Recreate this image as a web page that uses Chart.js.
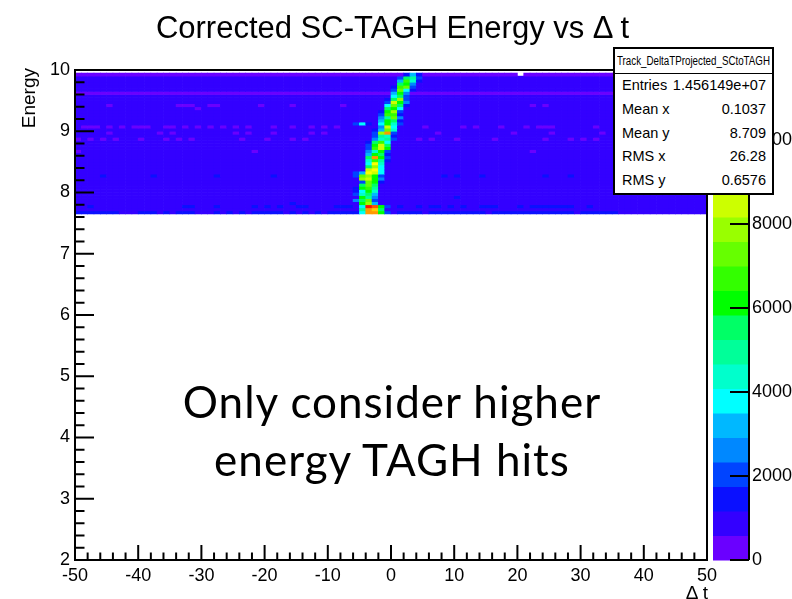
<!DOCTYPE html>
<html>
<head>
<meta charset="utf-8">
<script src="https://cdn.jsdelivr.net/npm/chart.js@4.4.1/dist/chart.umd.min.js"></script>
<style>
  html, body { margin: 0; padding: 0; background: #fff; }
  #wrap { position: relative; width: 792px; height: 599px; overflow: hidden; font-family: "Liberation Sans", Arial, sans-serif; color: #000; }
  #wrap canvas { position: absolute; left: 0; top: 0; }
  .abs { position: absolute; white-space: nowrap; }
  #title { left: 0; width: 785px; top: 8px; line-height: 40px; text-align: center; font-size: 31px; }
  #ytitle { left: 19px; top: 168px; width: 100px; line-height: 20px; text-align: right; font-size: 19px; transform-origin: 0 0; transform: rotate(-90deg); }
  #xtitle { left: 608px; width: 100px; top: 582px; line-height: 22px; text-align: right; font-size: 19px; }
  #note { left: 92px; width: 600px; top: 372px; line-height: 58px; text-align: center; font-family: Lato, "Open Sans", sans-serif; font-size: 44px; letter-spacing: 1px; }
  #stats { left: 613px; top: 47px; width: 161px; height: 148px; box-sizing: border-box; border: 2px solid #000; background: #fff; }
  #statsTitle { position: relative; height: 24px; line-height: 24px; border-bottom: 1.5px solid #000; font-size: 12px; overflow: hidden; }
  #statsTitle span { position: absolute; left: 2px; top: 0; transform-origin: 0 50%; }
  .srow { position: relative; height: 23.8px; line-height: 23.8px; font-size: 14.5px; }
  .srow .l { position: absolute; left: 7px; }
  .srow .v { position: absolute; right: 6px; }
</style>
</head>
<body>
<div id="wrap">
  <canvas id="hist" width="792" height="599"></canvas>
  <div id="title" class="abs">Corrected SC-TAGH Energy vs Δ t</div>
  <div id="ytitle" class="abs">Energy</div>
  <div id="xtitle" class="abs">Δ t</div>
  <div id="note" class="abs">Only consider higher<br>energy TAGH hits</div>
  <div id="stats" class="abs">
    <div id="statsTitle"><span id="statsName"></span></div>
    <div id="statsBody"></div>
  </div>
</div>
<script>
  // =====================
  // Data
  // =====================
  // Δt bins: 100 bins of width 1 from -50 to 50
  const tMin = -50, tMax = 50, tBin = 1;
  // energy bins: rows of 0.05 from 10.0 (row 0) down to 7.65
  const eTop = 10, eBin = 0.05;
  const eAxisMin = 2, eAxisMax = 10;

  // one string per energy row, one char per Δt bin (groups of 10 bins).
  // char = colour contour: 0-9, a-j (20 contours), "." = empty
  const cellRows = [
    ".......... .......... .......... .......... .......... .......... .......... .......... .......... ..........",
    "0000000000 0000000000 0000000000 0000000000 0000000000 0025200000 0000000000 .000000000 0000000000 0000000000",
    "1111111111 1111111111 1111111111 1111111111 1111111111 1398311111 1111111111 1111111111 1111111111 1111111111",
    "1111111111 1111111111 1111111111 1111111111 1111111111 15b7211111 1111111111 1111111111 1111111111 1111111111",
    "1111111111 1111111111 1111111111 1111111111 1111111111 19a4111111 1111111111 1111111111 1111111111 1111111111",
    "1111111111 1111111111 1111111111 1111111111 1111111111 2bc3111111 1111111111 1111111111 1111111111 1111111111",
    "1111111111 1111111111 1111111111 1111111111 1111111111 3c62111111 1111111111 1111111111 1111111111 1111111111",
    "0000000000 0000000000 0000000000 0000000000 0000000000 5a40000000 0000000000 0000000000 0000000000 0000000000",
    "1111111111 1111111111 1111111111 1111111111 1111111111 6931111111 1111111111 1111111111 1111111111 1111111111",
    "1111111111 1111111111 1111111111 1111111111 1111111112 9d31111111 1111111111 1111111111 1111111111 1111111111",
    "1111111111 1111111111 1111111111 1111111111 1111111113 ea41111111 1111111111 1111111111 1111111111 1111111111",
    "1111101111 1111110001 1001111110 1111011111 1101111116 c921111111 1111111111 1101011111 1111111111 1111111111",
    "1111111111 1111111110 1111111111 1111111111 1111111119 a611111111 1111111111 1111111111 1111111111 1111111111",
    "1111111111 1111111111 1111111111 1111111111 111111112a d311111111 1111111111 1111111111 1111111111 1111111111",
    "1111111111 1111111111 1111111111 1111111111 111111113b b211111111 1111111111 1111111111 1111111111 1111111111",
    "1111111111 1111111111 1111111111 1111111111 1111111148 c411111111 1111111111 1111111111 1111111111 1111111111",
    "1111111111 1111111111 1111111111 1111111111 111111115a 9211111111 1111111111 1111111111 1111111111 1111111111",
    "1111111111 1111111111 1111111111 1111111111 111136216a 7311111111 1111111111 1111111111 1111111111 1111111111",
    "1000101010 0011001010 1010101011 1011011010 101111114e 6111101111 1010111011 1010001111 1101111111 1111111111",
    "1111111111 1111111111 1111111111 1111111111 111111125c 7111111111 1111111111 1111111111 1111111111 1111111111",
    "1111101111 1110101111 1111101011 1011111010 11111113dh 3111111011 1111111110 1111101111 1110111111 1111111111",
    "1111111111 1111111111 1111111111 1111111111 1111111387 2111111111 1111111111 1111111111 1111111111 1111111111",
    "0101010111 0111010101 1111110111 0111010111 1111111478 3111010111 0111110111 1111011101 0101111111 1111111111",
    "1111111111 1111111111 1111111111 1111111111 11111129b6 1111111111 1111111111 1111111111 1111111111 1111111111",
    "1111111111 1111111111 1111111111 1111111111 1111113ae9 1111111111 1111111111 1111111111 1111111111 1111111111",
    "1111111111 1111111111 1111111111 1111111111 1111113bea 1111111111 1111111111 1111111111 1111111111 1111111111",
    "0111111111 1111111111 1111111101 1111111111 11111147a3 1111111111 1111111111 1101111111 1111111111 1111111111",
    "1111111111 1111111111 1111111111 1111111111 1111115a92 1111111111 1111111111 1111111111 1111111111 1111111111",
    "1111111111 1111111111 1111111111 1111111111 1111119ha3 1111111111 1111111111 1111111111 1111111111 1111111111",
    "1111111111 1111111111 1111111111 1111111111 1111117b82 1111111111 1111111111 1111111111 1111111111 1111111111",
    "1111111111 1111111111 1111111111 1111111111 1111116f71 1111111111 1111111111 1111111111 1111111111 1111111111",
    "1111111111 1111111111 1111111111 1111111111 1111119d61 1111111111 1111111111 1111111111 1111111111 1111111111",
    "1111111111 1111111111 1111111111 1111111111 111111ef61 1111111111 1111111111 1111111111 1111111111 1111111111",
    "1111111111 1111111111 1111111111 1111111111 111135fe61 1111111111 1111111111 1111111111 1111111111 1111111111",
    "1111211111 1121111111 1121111111 1211111111 11113cda31 1111111121 2111211111 1111211121 1111111111 1111111111",
    "1111111111 1111111111 1111111111 1111111111 11111dea41 1111111111 1111111111 1111111111 1111111111 1111111111",
    "1111111111 1111111111 1111111111 1111111111 111113ca21 1111111111 1111111111 1111111111 1111111111 1111111111",
    "1111111111 1111111111 1111111111 1111111111 111119c911 1111111111 1111111111 1111111111 1111111111 1111111111",
    "1111111111 1111111111 1111111111 1111111111 11112ab811 1111111111 1111111111 1111111111 1111111111 1111111111",
    "1111111111 1111111111 1111111111 1111111111 111126a711 1111111111 1111111111 1111111111 1111111111 1111111111",
    "1111111111 1111111111 1111111111 1111111111 1111379511 1111111111 1111111111 1111111111 1111111111 1111111111",
    "1111111111 1111111111 1111111111 1111111111 11111a8411 1111111111 2111111111 1111111111 1111111111 1111111111",
    "1111111111 1111111111 1111111111 1111111111 111149c311 1111111111 1111111111 1111111111 1111111111 1111111111",
    "1111111111 1111111111 1111111111 1111211111 11111ad511 1111111111 1111111111 1111111111 1111111111 1111111111",
    "1121111111 1111111221 1121111121 2121122111 122216jia3 1211212212 1211222111 2122222221 1211111111 1111111111",
    "1111111111 1111111111 1111111111 1111111111 111118hg91 1111111111 1111111111 1111111111 1111111111 1111111111",
    "2222222111 2221212221 1121212122 2221212121 222226hha3 1222212222 2222212222 2222222221 2222221111 1111111111"
  ];

  // colour scale: 20 contours up to zMax
  const zMax = 11667;
  const zTicks = [0, 2000, 4000, 6000, 8000, 10000];
  const paletteColors = [
    "#6a00ff", "#3300ff", "#0a10ff", "#0044ff", "#0088ff",
    "#00b8ff", "#00ffff", "#00ffcc", "#00ff99", "#00ff66",
    "#00ff00", "#33ff00", "#66ff00", "#99ff00", "#ccff00",
    "#ffff00", "#ffcc00", "#ff9900", "#ff5500", "#ff1000"
  ];

  const tTickStep = 10, tMinorStep = 2;
  const eTickStep = 1, eMinorStep = 0.2;

  const statsName = "Track_DeltaTProjected_SCtoTAGH";
  const statLabels = ["Entries", "Mean x", "Mean y", "RMS x", "RMS y"];
  const statValues = ["1.456149e+07", "0.1037", "8.709", "26.28", "0.6576"];

  // =====================
  // Helpers
  // =====================
  const zStep = zMax / paletteColors.length;
  const colorFor = v => paletteColors[Math.min(paletteColors.length - 1, Math.floor(v / zStep))];
  const FONT = "'Liberation Sans', Arial, sans-serif";

  const datasets = cellRows.map((row, r) => {
    const cells = row.replace(/ /g, "");
    const hi = eTop - r * eBin, lo = hi - eBin;
    const data = [], colors = [];
    [...cells].forEach((ch, c) => {
      if (ch === ".") return;
      const count = (parseInt(ch, 20) + 0.5) * zStep;
      data.push({ x: tMin + (c + 0.5) * tBin, y: [lo, hi], count });
      colors.push(colorFor(count));
    });
    return {
      data,
      backgroundColor: colors,
      borderWidth: 0,
      barPercentage: 1,
      categoryPercentage: 1
    };
  });

  // frame, inward ticks and the colour palette
  const frameAndPalette = {
    id: "frameAndPalette",
    afterDraw(chart) {
      const { ctx, chartArea: a, scales: { x, y, z } } = chart;
      ctx.save();
      ctx.strokeStyle = "#000";
      ctx.lineWidth = 2;
      ctx.strokeRect(a.left, a.top, a.right - a.left, a.bottom - a.top);

      const line = (x1, y1, x2, y2) => { ctx.beginPath(); ctx.moveTo(x1, y1); ctx.lineTo(x2, y2); ctx.stroke(); };
      for (let v = tMin; v <= tMax + 1e-9; v += tMinorStep) {
        const px = x.getPixelForValue(v);
        const major = Math.abs(v % tTickStep) < 1e-9;
        line(px, a.bottom, px, a.bottom - (major ? 15 : 7.5));
      }
      for (let v = eAxisMin; v <= eAxisMax + 1e-9; v += eMinorStep) {
        const py = y.getPixelForValue(v);
        const major = Math.abs(v - Math.round(v)) < 1e-6;
        line(a.left, py, a.left + (major ? 19 : 9.5), py);
      }

      // palette boxes
      const pl = a.right + 6, pr = a.right + 42;
      paletteColors.forEach((col, i) => {
        const y0 = z.getPixelForValue(i * zStep), y1 = z.getPixelForValue((i + 1) * zStep);
        ctx.fillStyle = col;
        ctx.fillRect(pl, y1, pr - pl, y0 - y1 + 0.5);
      });
      line(pr, a.top, pr, a.bottom);
      zTicks.forEach(v => {
        const py = z.getPixelForValue(v);
        line(pr - 19, py, pr, py);
      });
      ctx.restore();
    }
  };

  const tickFont = { family: FONT, size: 18 };
  const plain = v => String(v);

  new Chart(document.getElementById("hist"), {
    type: "bar",
    data: { datasets },
    options: {
      responsive: false,
      devicePixelRatio: 1,
      animation: false,
      events: [],
      layout: { padding: { top: 70, left: 0, right: 0, bottom: 0 } },
      plugins: { legend: { display: false }, tooltip: { enabled: false } },
      scales: {
        x: {
          type: "linear", position: "bottom", min: tMin, max: tMax, offset: false, stacked: true,
          grid: { display: false, drawTicks: false, offset: false }, border: { display: false },
          ticks: { stepSize: tTickStep, color: "#000", font: tickFont, padding: 5, maxRotation: 0, callback: plain },
          afterFit: s => { s.height = 39; }
        },
        y: {
          type: "linear", position: "left", min: eAxisMin, max: eAxisMax, stacked: false,
          grid: { display: false, drawTicks: false }, border: { display: false },
          ticks: { stepSize: eTickStep, color: "#000", font: tickFont, padding: 5, callback: plain },
          afterFit: s => { s.width = 75; s.paddingTop = 10; s.paddingBottom = 10; }
        },
        z: {
          type: "linear", position: "right", min: 0, max: zMax,
          grid: { display: false, drawTicks: false }, border: { display: false },
          ticks: { color: "#000", font: tickFont, padding: 45, callback: plain },
          afterBuildTicks: s => { s.ticks = zTicks.map(v => ({ value: v })); },
          afterFit: s => { s.width = 85; s.paddingTop = 10; s.paddingBottom = 10; }
        }
      }
    },
    plugins: [frameAndPalette]
  });

  // =====================
  // Stats box
  // =====================
  const nameEl = document.getElementById("statsName");
  nameEl.textContent = statsName;
  const fit = 153 / nameEl.getBoundingClientRect().width;
  nameEl.style.transform = `scaleX(${Math.min(1, fit)})`;
  document.getElementById("statsBody").innerHTML = statLabels
    .map((l, i) => `<div class="srow"><span class="l">${l}</span><span class="v">${statValues[i]}</span></div>`)
    .join("");
</script>
</body>
</html>
